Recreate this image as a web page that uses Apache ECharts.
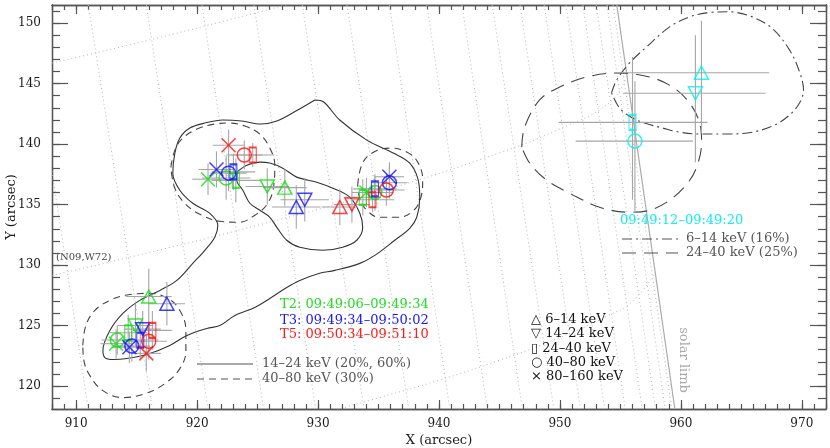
<!DOCTYPE html>
<html><head><meta charset="utf-8">
<script src="https://cdn.jsdelivr.net/npm/echarts@6/dist/echarts.min.js"></script>
<style>html,body{margin:0;padding:0;background:#fff}#c{width:830px;height:448px}</style>
</head><body><div id="c"></div>
<script>
// ---------------- data ----------------
const xRange = [908, 972];
const yRange = [118.1, 151.5];
const xMajorTicks = [910, 920, 930, 940, 950, 960, 970];
const yMajorTicks = [120, 125, 130, 135, 140, 145, 150];
const bands = ['6-14 keV', '14-24 keV', '24-40 keV', '40-80 keV', '80-160 keV'];

// T2 (green) 09:49:06-09:49:34
const t2Band = [0, 1, 2, 3, 4, 4, 3, 2, 1, 0, 2, 4, 3];
const t2X = [916.0, 914.9, 914.3, 913.4, 913.3, 920.9, 922.4, 923.2, 925.8, 927.25, 933.7, 934.0, 934.7];
const t2Y = [127.4, 125.0, 124.4, 123.8, 123.5, 137.1, 137.2, 137.0, 136.5, 136.4, 135.6, 136.0, 136.0];
const t2Xerr = [1.9, 1.5, 1.6, 1.3, 1.3, 1.3, 2.0, 2.0, 1.8, 1.8, 1.5, 1.2, 1.5];
const t2Yerr = [2.3, 1.8, 1.5, 1.2, 1.2, 1.3, 1.8, 1.8, 1.5, 1.5, 1.5, 1.2, 1.5];
// T3 (blue) 09:49:34-09:50:02
const t3Band = [0, 1, 2, 3, 4, 4, 3, 2, 0, 1, 2, 3, 4];
const t3X = [917.5, 915.5, 915.3, 914.6, 914.4, 921.6, 922.6, 923.0, 928.2, 928.9, 934.7, 935.9, 935.9];
const t3Y = [126.8, 124.7, 123.8, 123.3, 123.2, 137.9, 137.6, 137.7, 134.8, 135.4, 136.3, 136.8, 137.3];
const t3Xerr = [1.5, 1.5, 1.5, 1.5, 1.5, 1.5, 1.5, 1.8, 2.0, 2.0, 1.8, 1.5, 1.2];
const t3Yerr = [1.8, 1.5, 1.5, 1.3, 1.3, 1.5, 1.5, 1.5, 1.8, 1.8, 1.0, 1.3, 1.2];
// T5 (red) 09:50:34-09:51:10
const t5Band = [2, 3, 4, 4, 3, 2, 0, 1, 2, 3];
const t5X = [916.3, 916.0, 915.8, 922.6, 923.9, 924.6, 931.8, 932.8, 934.5, 935.65];
const t5Y = [124.6, 123.7, 122.7, 139.9, 139.1, 139.1, 134.8, 135.0, 135.4, 136.2];
const t5Xerr = [1.6, 1.5, 1.2, 1.3, 1.5, 1.8, 1.5, 1.5, 1.8, 1.5];
const t5Yerr = [1.6, 1.5, 1.5, 1.3, 1.2, 1.0, 1.5, 1.5, 1.0, 1.3];
// T1 (cyan) 09:49:12-09:49:20
const t1Band = [0, 1, 2, 3];
const t1X = [961.7, 961.2, 956.0, 956.2];
const t1Y = [145.9, 144.2, 141.8, 140.25];
const t1XLo = [954.5, 955.2, 949.9, 951.3];
const t1XHi = [967.3, 967.0, 962.2, 961.0];
const t1YLo = [140.9, 138.5, 135.4, 134.3];
const t1YHi = [150.2, 149.0, 147.2, 145.2];

// contours
const c1424OuterX = [929.73,930.47,931.79,934.03,936.26,937.58,938.24,938.41,938.16,937.58,936.34,934.69,933.45,931.38,930.06,928.49,927.41,926.01,924.77,923.12,921.88,920.80,919.15,917.74,915.84,914.19,913.03,912.37,912.21,912.79,913.86,915.26,916.92,918.32,919.64,920.64,921.46,921.71,921.05,919.64,918.57,917.99,918.16,918.57,919.40,920.64,922.12,923.69,925.26,926.59,928.32];
const c1424OuterY = [143.65,143.48,141.99,140.33,139.25,138.43,137.18,135.61,133.95,133.04,132.05,130.80,130.14,129.56,129.31,128.73,128.15,127.24,126.50,125.83,125.00,124.76,124.18,123.35,122.60,122.27,122.19,122.35,122.93,124.59,126.00,127.08,127.90,128.73,130.14,131.22,132.30,133.29,134.28,135.11,136.19,137.60,139.25,140.50,141.33,141.74,141.99,141.91,141.66,141.91,142.82];
const c1424InnerX = [923.28,924.11,925.18,926.01,927.08,928.24,929.89,931.22,932.62,933.45,933.69,933.20,932.04,930.39,928.49,927.41,926.59,926.01,925.18,924.36,923.78,923.28];
const c1424InnerY = [137.68,138.26,138.51,138.43,138.01,137.27,136.85,136.35,135.61,134.28,133.12,132.05,131.47,131.22,131.47,132.05,133.12,133.95,134.53,135.11,136.19,137.02];
const c4080aX = [917.83,918.16,918.82,919.98,921.46,922.62,923.94,925.18,926.01,926.42,926.34,925.84,924.77,923.45,921.88,920.22,918.98,918.16];
const c4080aY = [138.09,139.50,140.50,141.24,141.66,141.74,141.49,140.83,139.67,138.26,136.60,135.11,134.12,133.54,133.62,134.20,135.11,136.35];
const c4080bX = [933.28,933.61,934.44,935.93,937.33,938.24,938.65,938.49,937.83,936.59,935.10,934.03,933.45];
const c4080bY = [136.60,138.26,139.25,139.67,139.34,138.51,137.02,135.53,134.45,133.95,133.95,134.53,135.53];
const c4080cX = [910.55,910.80,911.55,912.79,914.44,916.09,917.58,918.57,919.07,919.07,918.57,917.33,915.68,913.86,912.21,911.13,910.64];
const c4080cY = [123.35,125.00,126.25,127.08,127.57,127.66,127.24,126.25,124.59,122.93,121.44,120.20,119.37,119.04,119.62,120.86,122.10];
const c614X = [954.27,954.69,955.76,957.17,959.07,960.72,962.12,963.86,965.68,967.50,968.98,969.81,970.14,969.81,968.98,967.74,965.93,963.78,961.55,959.89,958.49,957.00,956.01,954.93];
const c614Y = [144.23,145.30,146.71,148.04,149.69,150.52,150.85,150.94,150.60,149.61,147.79,145.97,144.47,143.40,142.40,141.57,140.99,140.83,140.83,140.99,141.33,141.74,142.15,142.98];
const c2440X = [946.84,947.08,948.32,949.98,952.21,954.69,957.41,959.31,960.72,961.55,961.71,961.30,960.55,959.07,957.41,955.76,953.28,950.80,948.90,947.50];
const c2440Y = [139.75,141.41,143.65,144.72,145.55,145.88,145.55,144.72,143.40,141.74,140.08,138.09,136.77,135.36,134.53,134.37,134.78,135.94,137.02,138.43];

// heliographic grid (meridians: x at top / bottom edge of the frame)
const lonTopX = [905.9, 911.0, 915.8, 920.4, 924.7, 928.7, 932.4, 935.9, 939.0, 941.9, 944.4, 946.7, 948.7, 950.5, 951.9, 953.0, 953.9, 954.4];
const lonBottomX = [911.0, 916.3, 920.9, 925.5, 929.8, 933.8, 937.5, 940.9, 944.0, 946.9, 949.5, 951.7, 953.7, 955.4, 956.8, 957.9, 958.7, 959.25];
const latN10X = [908, 915, 925, 930];
const latN10Y = [146.7, 148.35, 150.89, 152.25];
const latN09X = [908, 915, 925, 935, 945, 950, 954, 955.4];
const latN09Y = [129.15, 130.79, 133.29, 136.04, 139.28, 141.27, 143.35, 145.3];
const latN08X = [930, 935, 940, 945, 950, 954, 956, 957.9];
const latN08Y = [117.62, 119.02, 120.48, 122.13, 124.01, 125.83, 127.0, 129.4];
const limbX = [954.7, 959.5];
const limbY = [151.5, 118.1];

// ---------------- chart ----------------
const FONT = '"DejaVu Serif", serif';
const AXC = '#555';
const chart = echarts.init(document.getElementById('c'), null, {renderer: 'canvas'});

function range(a, b) { const r = []; for (let v = a; v <= b; v++) r.push(v); return r; }
const xMinor = range(Math.ceil(xRange[0]), Math.floor(xRange[1]));
const yMinor = range(Math.ceil(yRange[0]), Math.floor(yRange[1]));

function axis(dim, pos, ticks, len, labels, extra) {
  const a = {
    type: 'value', position: pos,
    min: dim === 'x' ? xRange[0] : yRange[0],
    max: dim === 'x' ? xRange[1] : yRange[1],
    axisLine: {show: true, onZero: false, lineStyle: {color: AXC, width: 1.3}},
    axisTick: {show: true, inside: true, length: len, customValues: ticks, lineStyle: {color: AXC, width: 1.2}},
    axisLabel: {show: labels, customValues: ticks, color: '#1a1a1a', fontFamily: FONT, fontSize: 12, margin: dim === 'x' ? 9 : 11},
    splitLine: {show: false}
  };
  return Object.assign(a, extra || {});
}

const xAxes = [
  axis('x', 'bottom', xMajorTicks, 9, true, {name: 'X (arcsec)', nameLocation: 'middle', nameGap: 25, nameMoveOverlap: false,
    nameTextStyle: {fontFamily: FONT, fontSize: 13, color: '#1a1a1a'}}),
  axis('x', 'bottom', xMinor, 5, false),
  axis('x', 'top', xMajorTicks, 9, false),
  axis('x', 'top', xMinor, 5, false)
];
const yAxes = [
  axis('y', 'left', yMajorTicks, 16, true, {name: 'Y (arcsec)', nameLocation: 'middle', nameGap: 34, nameRotate: 90, nameMoveOverlap: false,
    nameTextStyle: {fontFamily: FONT, fontSize: 13, color: '#1a1a1a'}}),
  axis('y', 'left', yMinor, 8, false),
  axis('y', 'right', yMajorTicks, 16, false),
  axis('y', 'right', yMinor, 8, false)
];

const series = [];
function zip(xs, ys) { return xs.map((x, i) => [x, ys[i]]); }
function lineSeries(pts, style, smooth, z) {
  series.push({type: 'line', data: pts, showSymbol: false, symbol: 'none', smooth: smooth, silent: true,
    lineStyle: style, z: z, animation: false, clip: true});
}
// heliographic grid
const gridStyle = {color: '#b4b4b4', width: 1, type: [1, 3]};
lonTopX.forEach((t, i) => lineSeries([[t, yRange[1]], [lonBottomX[i], yRange[0]]], gridStyle, false, 1));
lineSeries(zip(latN10X, latN10Y), gridStyle, true, 1);
lineSeries(zip(latN09X, latN09Y), gridStyle, true, 1);
lineSeries(zip(latN08X, latN08Y), gridStyle, true, 1);
lineSeries(zip(limbX, limbY), {color: '#aaaaaa', width: 1.2}, false, 1);

// contours
function closed(xs, ys) { const p = zip(xs, ys); p.push(p[0]); return p; }
lineSeries(closed(c1424OuterX, c1424OuterY), {color: '#333', width: 1.1}, 0.35, 2);
lineSeries(closed(c1424InnerX, c1424InnerY), {color: '#333', width: 1.1}, 0.35, 2);
const dashed = {color: '#444', width: 1.1, type: [7, 5]};
lineSeries(closed(c4080aX, c4080aY), dashed, 0.4, 2);
lineSeries(closed(c4080bX, c4080bY), dashed, 0.4, 2);
lineSeries(closed(c4080cX, c4080cY), dashed, 0.4, 2);
lineSeries(closed(c614X, c614Y), {color: '#444', width: 1.1, type: [10, 4, 2, 4]}, 0.35, 2);
lineSeries(closed(c2440X, c2440Y), {color: '#444', width: 1.1, type: [14, 8]}, 0.35, 2);

// error bars
function errData(xs, ys, xe, ye) {
  return xs.map((x, i) => [x, ys[i], x - xe[i], x + xe[i], ys[i] - ye[i], ys[i] + ye[i]]);
}
const allErr = []
  .concat(errData(t2X, t2Y, t2Xerr, t2Yerr))
  .concat(errData(t3X, t3Y, t3Xerr, t3Yerr))
  .concat(errData(t5X, t5Y, t5Xerr, t5Yerr))
  .concat(t1X.map((x, i) => [x, t1Y[i], t1XLo[i], t1XHi[i], t1YLo[i], t1YHi[i]]));
series.push({
  type: 'custom', silent: true, z: 3, animation: false,
  data: allErr,
  encode: {x: [0, 2, 3], y: [1, 4, 5]},
  renderItem: function (params, api) {
    const x = api.value(0), y = api.value(1);
    const a = api.coord([api.value(2), y]), b = api.coord([api.value(3), y]);
    const c = api.coord([x, api.value(4)]), d = api.coord([x, api.value(5)]);
    const st = {stroke: '#a6a6a6', lineWidth: 1.1};
    return {type: 'group', children: [
      {type: 'line', shape: {x1: a[0], y1: a[1], x2: b[0], y2: b[1]}, style: st},
      {type: 'line', shape: {x1: c[0], y1: c[1], x2: d[0], y2: d[1]}, style: st}
    ]};
  }
});

// markers
const CROSS = 'path://M0,0L10,10M10,0L0,10';
function symFor(b) {
  switch (b) {
    case 0: return {symbol: 'triangle', symbolSize: [14, 13], symbolRotate: 0};
    case 1: return {symbol: 'triangle', symbolSize: [14, 13], symbolRotate: 180};
    case 2: return {symbol: 'rect', symbolSize: [7, 15], symbolRotate: 0};
    case 3: return {symbol: 'circle', symbolSize: 14, symbolRotate: 0};
    default: return {symbol: CROSS, symbolSize: 14, symbolRotate: 0};
  }
}
function markerSeries(name, band, xs, ys, color) {
  series.push({
    type: 'scatter', name: name, silent: true, z: 5, animation: false,
    data: xs.map((x, i) => Object.assign({value: [x, ys[i]]}, symFor(band[i]))),
    itemStyle: {color: 'transparent', borderColor: color, borderWidth: 1.5}
  });
}
const GREEN = '#11e011', BLUE = '#1010ff', RED = '#ff1010', CYAN = '#00f0f0';
markerSeries('T2', t2Band, t2X, t2Y, GREEN);
markerSeries('T3', t3Band, t3X, t3Y, BLUE);
markerSeries('T5', t5Band, t5X, t5Y, RED);
markerSeries('T1', t1Band, t1X, t1Y, CYAN);

// annotations
function txt(x, y, s, fill, size, extra) {
  return Object.assign({type: 'text', x: x, y: y, z: 20, silent: true,
    style: {text: s, fill: fill, font: size + 'px ' + FONT, verticalAlign: 'middle', align: 'left'}}, extra || {});
}
function seg(x1, x2, y, dash) {
  return {type: 'line', z: 20, silent: true, shape: {x1: x1, y1: y, x2: x2, y2: y},
    style: {stroke: '#555', lineWidth: 1.1, lineDash: dash}};
}
const legendSymbols = ['\u25B3', '\u25BD', '\u25AF', '\u25CB', '\u00D7'];
const graphic = [
  txt(56, 257, '(N09,W72)', '#444', 10),
  txt(280, 305, 'T2: 09:49:06\u201309:49:34', '#22dd22', 13),
  txt(280, 320.5, 'T3: 09:49:34\u201309:50:02', '#1515ff', 13),
  txt(280, 335, 'T5: 09:50:34\u201309:51:10', '#ff1a1a', 13),
  seg(197, 253, 364, null),
  seg(197, 253, 379, [7, 5]),
  txt(262, 364, '14\u201324 keV (20%, 60%)', '#555', 13),
  txt(262, 378.5, '40\u201380 keV (30%)', '#555', 13),
  txt(620, 221, '09:49:12\u201309:49:20', '#11eeee', 13),
  seg(622, 678, 239, [10, 4, 2, 4]),
  seg(622, 678, 253, [14, 8]),
  txt(686, 239, '6\u201314 keV (16%)', '#555', 13),
  txt(686, 253, '24\u201340 keV (25%)', '#555', 13),
  {type: 'text', x: 683, y: 360, rotation: -Math.PI / 2, z: 20, silent: true,
    style: {text: 'solar limb', fill: '#aaaaaa', font: '13px ' + FONT, align: 'center', verticalAlign: 'middle'}}
];
const legY = [320, 334, 348.5, 362.5, 377];
bands.forEach((b, i) => graphic.push(txt(531, legY[i], legendSymbols[i] + ' ' + b.replace('-', '\u2013'), '#111', 13)));

chart.setOption({
  animation: false,
  backgroundColor: '#fff',
  grid: {left: 52, right: 4, top: 5, bottom: 39, containLabel: false, outerBoundsMode: 'none'},
  xAxis: xAxes,
  yAxis: yAxes,
  series: series,
  graphic: graphic
});
</script></body></html>
